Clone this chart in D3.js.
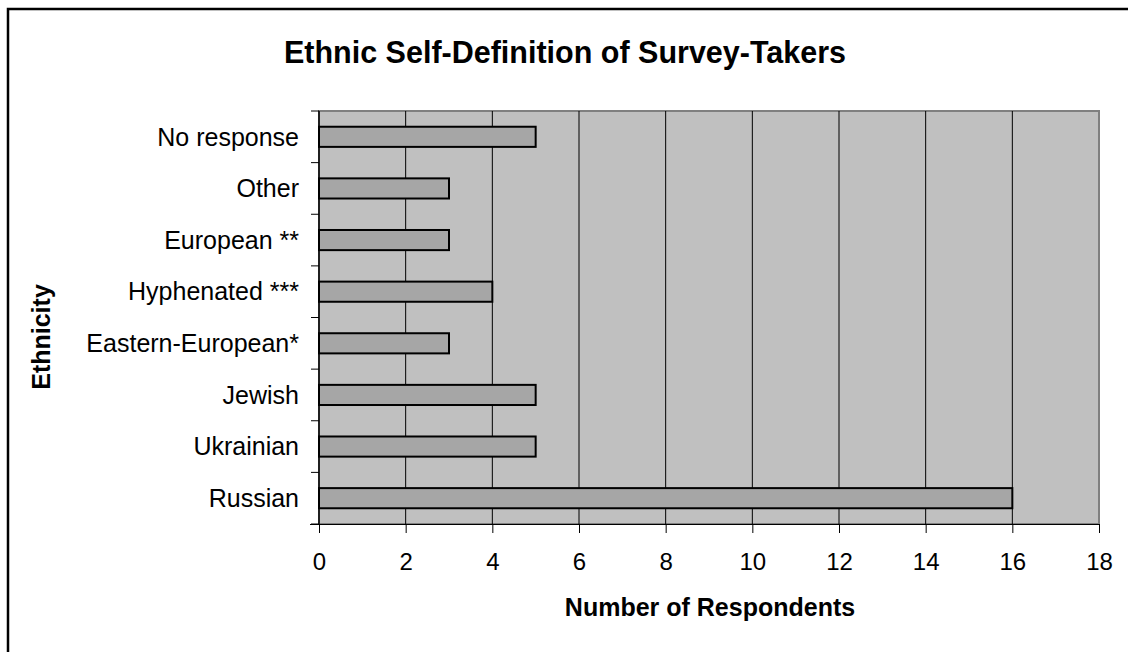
<!DOCTYPE html>
<html><head><meta charset="utf-8">
<script src="https://cdn.jsdelivr.net/npm/d3@7"></script>
<style>html,body{margin:0;padding:0;background:#fff;}svg{display:block;font-family:"Liberation Sans",Arial,sans-serif;}</style>
</head><body>
<svg id="chart" width="1128" height="652"></svg>
<script>
const categories = ["No response","Other","European **","Hyphenated ***","Eastern-European*","Jewish","Ukrainian","Russian"];
const values = [5,3,3,4,3,5,5,16];
const xTicks = [0,2,4,6,8,10,12,14,16,18];
const titleText = "Ethnic Self-Definition of Survey-Takers";
const xTitle = "Number of Respondents";
const yTitle = "Ethnicity";

const svg = d3.select("#chart");
const m = {left:319, right:1099, top:111, bottom:524};

svg.append("rect").attr("x",8).attr("y",9).attr("width",1140).attr("height",700)
  .attr("fill","#fff").attr("stroke","#000").attr("stroke-width",2.5);

const x = d3.scaleLinear().domain([0,18]).range([m.left,m.right]);
const y = d3.scaleBand().domain(categories).range([m.top,m.bottom]).paddingInner(0.61).paddingOuter(0.305);
const yEdge = d3.scalePoint().domain(d3.range(categories.length+1)).range([m.top,m.bottom]);

svg.append("rect").attr("x",m.left).attr("y",m.top).attr("width",m.right-m.left).attr("height",m.bottom-m.top)
  .attr("fill","#c0c0c0").attr("stroke","#808080").attr("stroke-width",2);

svg.append("g").selectAll("line").data(xTicks.slice(1,-1)).join("line")
  .attr("x1",d=>x(d)).attr("x2",d=>x(d)).attr("y1",m.top).attr("y2",m.bottom)
  .attr("stroke","#000").attr("stroke-width",1);

svg.append("g").selectAll("rect").data(categories).join("rect")
  .attr("x",x(0)).attr("y",d=>y(d)).attr("height",y.bandwidth())
  .attr("width",(d,i)=>x(values[i])-x(0))
  .attr("fill","#a6a6a6").attr("stroke","#000").attr("stroke-width",2);

// x axis
const xAxis = svg.append("g").attr("transform",`translate(0,${m.bottom})`)
  .call(d3.axisBottom(x).tickValues(xTicks).tickSize(9).tickPadding(20).tickFormat(d3.format("d")));
xAxis.select(".domain").attr("stroke","#000").attr("stroke-width",1.2).attr("d",`M${m.left-9},0.5H${m.right}`);
xAxis.selectAll(".tick line").attr("stroke","#000");
xAxis.selectAll(".tick text").attr("font-size",24).attr("fill","#000").attr("font-family","Liberation Sans, Arial, sans-serif");

// y axis edge ticks
const yAxisG = svg.append("g");
yAxisG.append("line").attr("x1",m.left).attr("x2",m.left).attr("y1",m.top).attr("y2",m.bottom).attr("stroke","#000").attr("stroke-width",1.5);
yAxisG.selectAll("line.t").data(yEdge.domain()).join("line").attr("class","t")
  .attr("x1",m.left-8).attr("x2",m.left).attr("y1",d=>yEdge(d)).attr("y2",d=>yEdge(d)).attr("stroke","#000");
yAxisG.selectAll("text").data(categories).join("text")
  .attr("x",299).attr("y",d=>y(d)+y.bandwidth()/2).attr("dy","0.35em")
  .attr("text-anchor","end").attr("font-size",25).attr("fill","#000").text(d=>d);

svg.append("text").attr("x",565).attr("y",63).attr("text-anchor","middle")
  .attr("font-size",30.5).attr("font-weight","bold").text(titleText);
svg.append("text").attr("x",710).attr("y",616).attr("text-anchor","middle")
  .attr("font-size",25).attr("font-weight","bold").text(xTitle);
svg.append("text").attr("transform","translate(50,337) rotate(-90)").attr("text-anchor","middle")
  .attr("font-size",25).attr("font-weight","bold").text(yTitle);
</script>
</body></html>
